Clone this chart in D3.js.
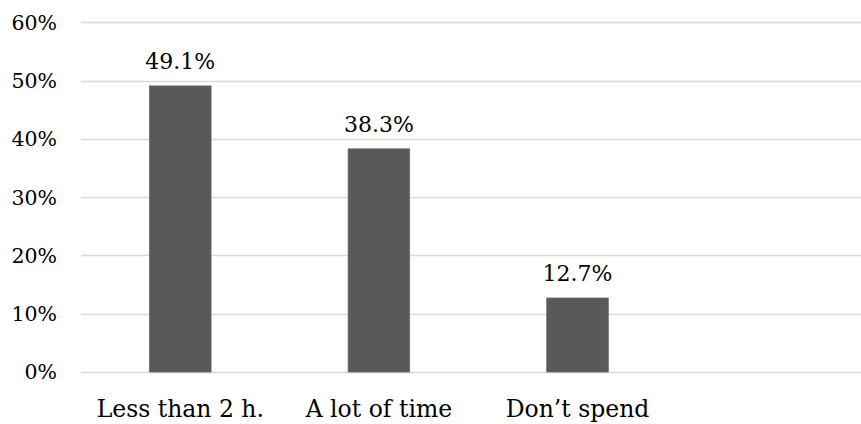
<!DOCTYPE html>
<html>
<head>
<meta charset="utf-8">
<script src="https://cdn.jsdelivr.net/npm/d3@7"></script>
<style>
  html, body { margin: 0; padding: 0; background: #fff; }
  svg { display: block; }
  text { font-family: "DejaVu Serif", "Liberation Serif", serif; fill: #000; }
</style>
</head>
<body>
<svg id="chart" width="861" height="424"></svg>
<script>
// Share of respondents by time spent
const categories = ["Less than 2 h.", "A lot of time", "Don\u2019t spend"];
const values = [49.1, 38.3, 12.7];
const yTicks = [0, 10, 20, 30, 40, 50, 60];

const W = 861, H = 424;
const plot = { left: 81, right: 861, top: 22.4, bottom: 372 };
const step = 198.6;

const svg = d3.select("#chart");

const x = d3.scaleBand()
  .domain(categories)
  .range([plot.left, plot.left + step * categories.length])
  .paddingInner(0.69)
  .paddingOuter(0.345);

const y = d3.scaleLinear()
  .domain([0, 60])
  .range([plot.bottom, plot.top]);

// Horizontal gridlines
svg.append("g")
  .selectAll("line")
  .data(yTicks)
  .join("line")
  .attr("x1", plot.left)
  .attr("x2", plot.right)
  .attr("y1", d => Math.round(y(d)) + 0.5)
  .attr("y2", d => Math.round(y(d)) + 0.5)
  .attr("stroke", "#d9d9d9")
  .attr("stroke-width", 1.3);

// Y axis labels
svg.append("g")
  .selectAll("text")
  .data(yTicks)
  .join("text")
  .attr("x", 57)
  .attr("y", d => y(d))
  .attr("dy", "0.36em")
  .attr("text-anchor", "end")
  .style("font-size", "20.5px")
  .text(d => d + "%");

// Bars
svg.append("g")
  .selectAll("rect")
  .data(values)
  .join("rect")
  .attr("x", (d, i) => x(categories[i]))
  .attr("width", x.bandwidth())
  .attr("y", d => y(d))
  .attr("height", d => y(0) - y(d))
  .attr("fill", "#595959")
  .attr("stroke", "#6a6a6a")
  .attr("stroke-width", 0.8);

// Value labels
svg.append("g")
  .selectAll("text")
  .data(values)
  .join("text")
  .attr("x", (d, i) => x(categories[i]) + x.bandwidth() / 2)
  .attr("y", d => y(d) - 17)
  .attr("text-anchor", "middle")
  .style("font-size", "22px")
  .text(d => d.toFixed(1) + "%");

// Category labels
svg.append("g")
  .selectAll("text")
  .data(categories)
  .join("text")
  .attr("x", d => x(d) + x.bandwidth() / 2)
  .attr("y", plot.bottom + 44.7)
  .attr("text-anchor", "middle")
  .style("font-size", "23.5px")
  .text(d => d);
</script>
</body>
</html>
